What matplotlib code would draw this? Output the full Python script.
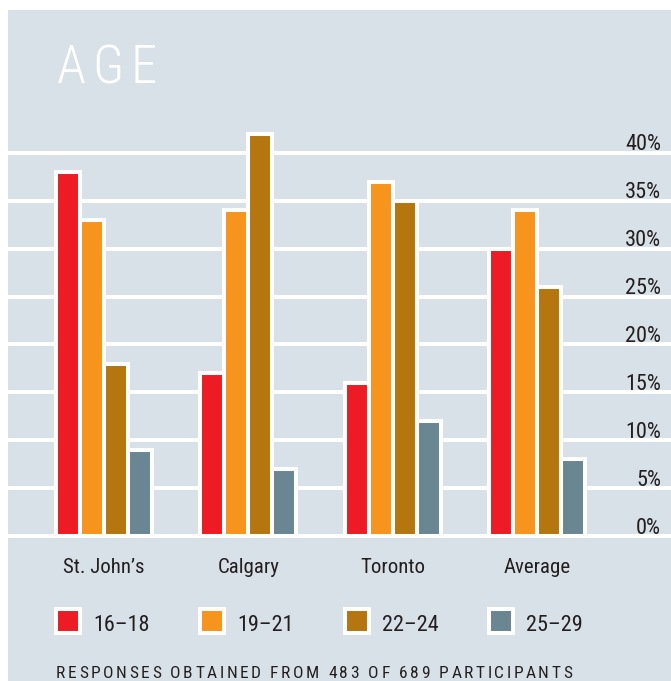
import matplotlib
matplotlib.use("Agg")
import matplotlib.pyplot as plt
from matplotlib.patches import Rectangle
from matplotlib.transforms import blended_transform_factory
import numpy as np

# data (percent of respondents)
cities = ["St. John\u2019s", "Calgary", "Toronto", "Average"]
age_groups = ["16\u201318", "19\u201321", "22\u201324", "25\u201329"]
pct_16_18 = [38, 17, 16, 30]
pct_19_21 = [33, 34, 37, 34]
pct_22_24 = [18, 42, 35, 26]
pct_25_29 = [9, 7, 12, 8]
series = [pct_16_18, pct_19_21, pct_22_24, pct_25_29]
colors = ["#ed1c24", "#f7941d", "#b57610", "#6b8693"]
y_ticks = list(range(0, 45, 5))
title = "AGE"
footer = "RESPONSES OBTAINED FROM 483 OF 689 PARTICIPANTS"

W, H = 671, 681
PANEL = "#d9e1e8"
TEXT = "#231f20"
FAMS = ["Liberation Sans Narrow", "Roboto Condensed", "DejaVu Sans"]
plt.rcParams["font.family"] = FAMS
plt.rcParams["font.stretch"] = "condensed"


def spaced_text(fig, x_px, y_px, s, width_px, min_gap=0, **kw):
    # draw text one glyph at a time so it can be letter-spaced like the original
    r = fig.canvas.get_renderer()

    def ext(txt):
        t = fig.text(0, 0, txt, **kw)
        w = t.get_window_extent(r).width
        t.remove()
        return w

    space_w = ext("I I") - ext("II")
    widths = [space_w if ch == " " else ext(ch) for ch in s]
    gap = max(min_gap, (width_px - sum(widths)) / (len(s) - 1))
    x = x_px
    for ch, w in zip(s, widths):
        if ch != " ":
            fig.text(x / W, y_px / H, ch, ha="left", va="baseline", **kw)
        x += w + gap


fig = plt.figure(figsize=(W / 100, H / 100), dpi=100)
fig.patch.set_facecolor("white")
fig.add_artist(Rectangle((8 / W, 0), 1, (H - 10) / H, transform=fig.transFigure,
                         facecolor=PANEL, edgecolor="none", zorder=0))

px_per_pct = 9.58
y_lo, y_hi = -0.3, 44
zero_px = 536  # from top
ax_bottom = (H - zero_px - (-y_lo) * px_per_pct) / H
ax_height = (y_hi - y_lo) * px_per_pct / H
ax = fig.add_axes([8 / W, ax_bottom, 1 - 8 / W, ax_height])
ax.set_facecolor("none")

group_px = 144.33
bar_w = 24 / group_px
x = np.arange(len(cities))
offsets = (np.arange(4) - 1.5) * bar_w
for vals, off, c in zip(series, offsets, colors):
    ax.bar(x + off, vals, width=bar_w, color=c, edgecolor="white",
           linewidth=2.9, zorder=3)

ax.set_xlim(-96 / group_px, -96 / group_px + (W - 8) / group_px)
ax.set_ylim(y_lo, y_hi)
ax.set_yticks(y_ticks)
ax.yaxis.grid(True, color="white", linewidth=2.9)
ax.set_axisbelow(True)
ax.tick_params(axis="y", length=0, labelleft=False)
for s in ax.spines.values():
    s.set_visible(False)

ax.set_xticks(x)
ax.set_xticklabels(cities, fontsize=15, color=TEXT)
ax.tick_params(axis="x", length=0, pad=14)

lab_tr = blended_transform_factory(ax.transAxes, ax.transData)
for v in y_ticks:
    ax.text((661 - 8) / (W - 8), v + 0.25, f"{v}%", transform=lab_tr,
            ha="right", va="baseline", fontsize=16, color=TEXT)

# legend: squares sit under the first bar of each group
leg_tr = blended_transform_factory(ax.transData, fig.transFigure)
sq_h = 24 / H
sq_y = (H - 621) / H
for i, (lab, c) in enumerate(zip(age_groups, colors)):
    cx = x[i] + offsets[0]
    ax.add_patch(Rectangle((cx - bar_w / 2, sq_y - sq_h / 2), bar_w, sq_h,
                           transform=leg_tr, facecolor=c, edgecolor="white",
                           linewidth=2.9, clip_on=False, zorder=5))
    ax.text(cx + 25 / group_px, (H - 631) / H, lab, transform=leg_tr,
            ha="left", va="baseline", fontsize=16, color=TEXT)

spaced_text(fig, 57, H - 83, title, 100, min_gap=6, fontsize=38,
            color="white", fontweight="light")
spaced_text(fig, 56, 3, footer, 516, fontsize=12.5, color=TEXT)

fig.savefig("out.png", dpi=100, facecolor=fig.get_facecolor())
